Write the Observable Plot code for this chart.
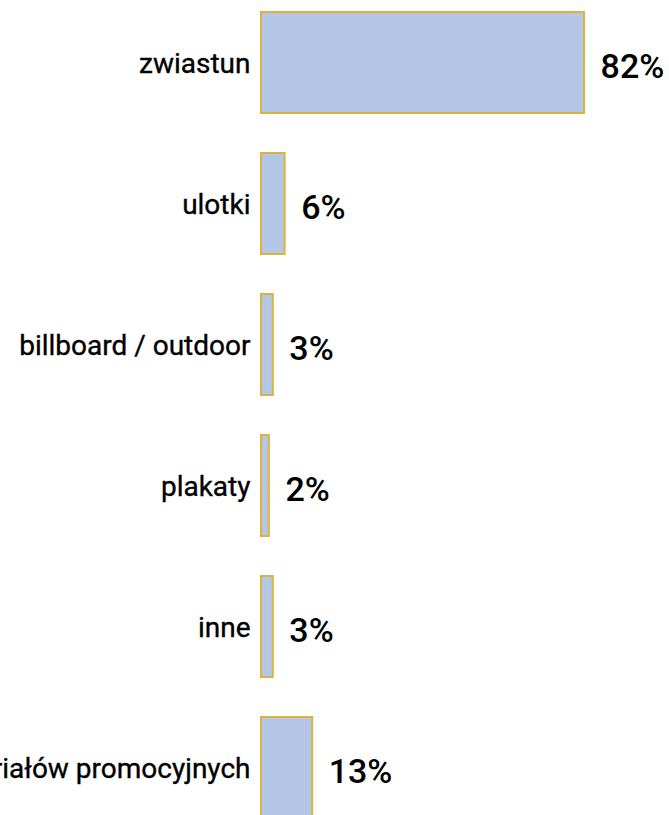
<!DOCTYPE html>
<html>
<head>
<meta charset="utf-8">
<script src="https://cdn.jsdelivr.net/npm/d3@7"></script>
<script src="https://cdn.jsdelivr.net/npm/@observablehq/plot@0.6"></script>
<style>
  html, body { margin: 0; padding: 0; background: #ffffff; overflow: hidden; }
  #chart svg { display: block; }
</style>
</head>
<body>
<div id="chart"></div>
<script>
const categories = [
  "zwiastun",
  "ulotki",
  "billboard / outdoor",
  "plakaty",
  "inne",
  "nie widziałem materiałów promocyjnych"
];
const values = [82, 6, 3, 2, 3, 13];
const valueLabels = ["82%", "6%", "3%", "2%", "3%", "13%"];

const data = categories.map((c, i) => ({category: c, value: values[i], label: valueLabels[i]}));

const chart = Plot.plot({
  width: 669,
  height: 815,
  marginLeft: 0,
  marginRight: 0,
  marginTop: 0,
  marginBottom: 0,
  style: {background: "#ffffff", overflow: "hidden"},
  x: {domain: [0, 100], range: [261, 655], axis: null},
  y: {domain: categories, range: [-29, 859], padding: 0.285, axis: null},
  marks: [
    Plot.barX(data, {
      x: "value",
      y: "category",
      fill: "#b4c7e7",
      stroke: "#dcb43c",
      strokeWidth: 2
    }),
    Plot.text(data, {
      x: 0,
      y: "category",
      text: "category",
      textAnchor: "end",
      dx: -11,
      dy: 1,
      fontSize: 28,
      fontFamily: "Roboto",
      fontWeight: 400,
      fill: "#000000",
      stroke: "#000000",
      strokeWidth: 0.35
    }),
    Plot.text(data, {
      x: "value",
      y: "category",
      text: "label",
      textAnchor: "start",
      dx: 16,
      dy: 4,
      fontSize: 34,
      fontFamily: "Roboto",
      fontWeight: 500,
      fill: "#000000"
    })
  ]
});
document.getElementById("chart").appendChild(chart);
</script>
</body>
</html>
